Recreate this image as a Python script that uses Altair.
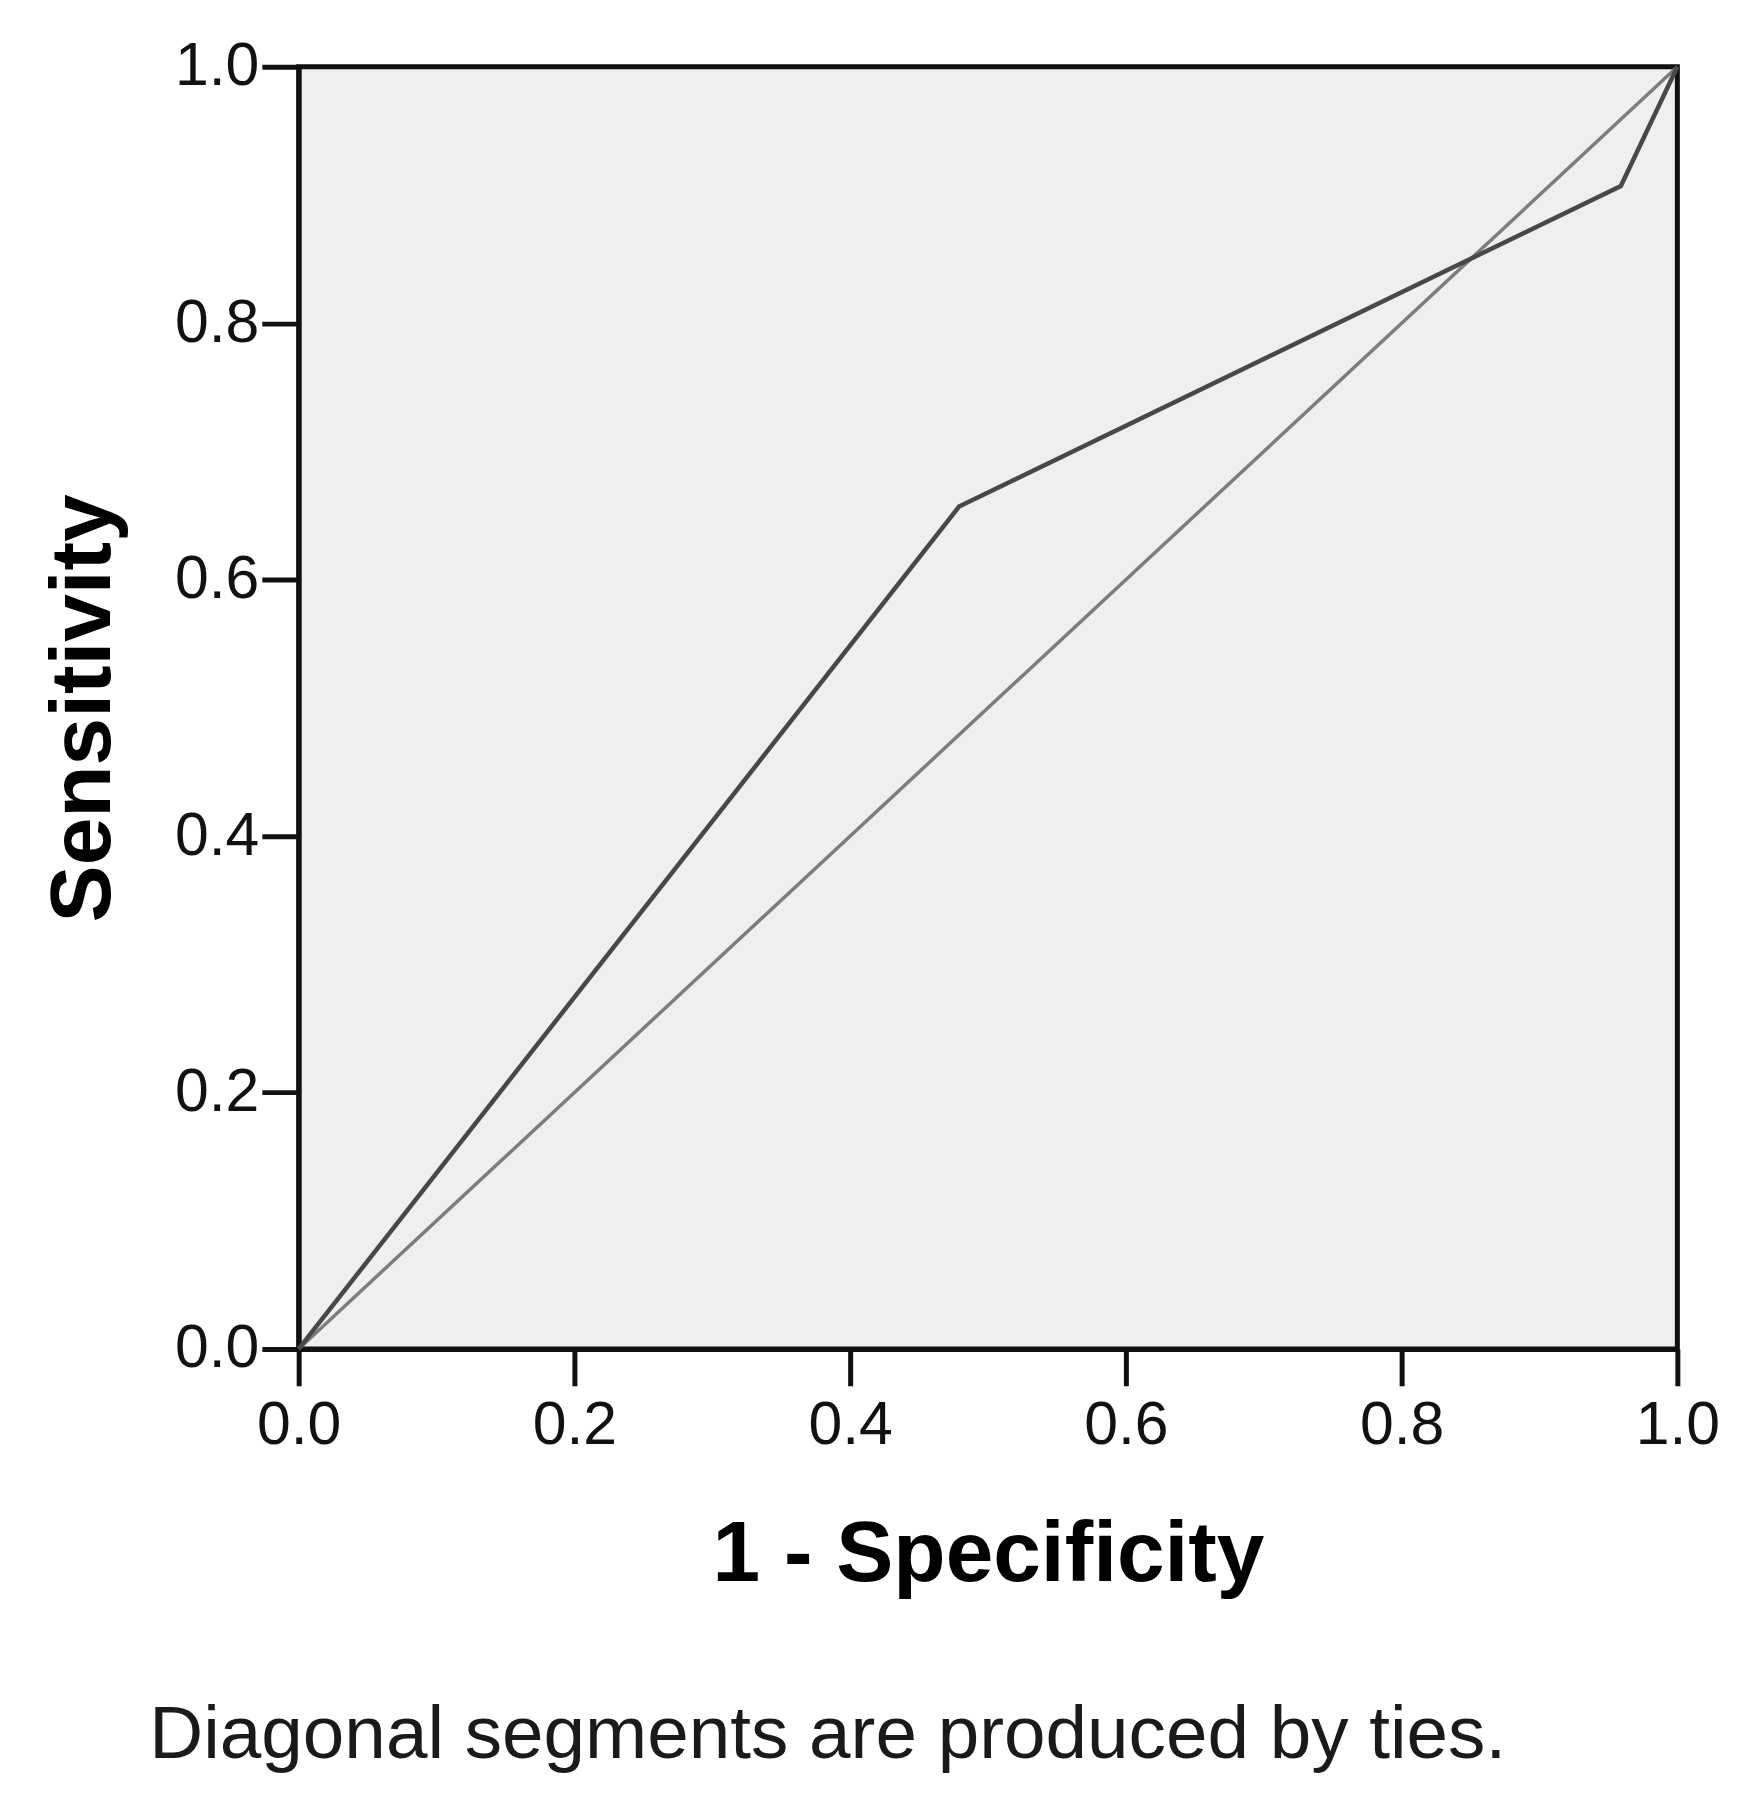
import altair as alt
import pandas as pd

# ROC curve points
fpr = [0.0, 0.479, 0.959, 1.0]
tpr = [0.0, 0.657, 0.907, 1.0]

# reference diagonal
diag_x = [0.0, 1.0]
diag_y = [0.0, 1.0]

tick_values = [0.0, 0.2, 0.4, 0.6, 0.8, 1.0]

roc_df = pd.DataFrame({"fpr": fpr, "tpr": tpr, "order": list(range(len(fpr)))})
diag_df = pd.DataFrame({"fpr": diag_x, "tpr": diag_y, "order": [0, 1]})

FONT = "Liberation Sans"

x_scale = alt.Scale(domain=[0, 1], nice=False, zero=False)
y_scale = alt.Scale(domain=[0, 1], nice=False, zero=False)

x_axis = alt.Axis(
    title="1 - Specificity",
    values=tick_values,
    format=".1f",
    grid=False,
    tickSize=37,
    tickWidth=5,
    tickColor="#111111",
    domainColor="#111111",
    domainWidth=5,
    labelFont=FONT,
    labelFontSize=61,
    labelColor="#111111",
    labelPadding=10,
    labelFlush=False,
    titleFont=FONT,
    titleFontSize=86,
    titleFontWeight="bold",
    titleColor="#000000",
    titlePadding=58,
)

y_axis = alt.Axis(
    title="Sensitivity",
    values=tick_values,
    format=".1f",
    grid=False,
    tickSize=37,
    tickWidth=5,
    tickColor="#111111",
    domainColor="#111111",
    domainWidth=5,
    labelFont=FONT,
    labelFontSize=61,
    labelColor="#111111",
    labelPadding=3,
    labelFlush=False,
    titleFont=FONT,
    titleFontSize=86,
    titleFontWeight="bold",
    titleColor="#000000",
    titlePadding=47,
)

diag = alt.Chart(diag_df).mark_line(color="#7d7d7d", strokeWidth=3.5).encode(
    x=alt.X("fpr:Q", scale=x_scale, axis=x_axis),
    y=alt.Y("tpr:Q", scale=y_scale, axis=y_axis),
    order="order:Q",
)

roc = alt.Chart(roc_df).mark_line(color="#484848", strokeWidth=4.5).encode(
    x=alt.X("fpr:Q", scale=x_scale),
    y=alt.Y("tpr:Q", scale=y_scale),
    order="order:Q",
)

chart = (
    alt.layer(diag, roc)
    .properties(
        width=1385,
        height=1288,
        background="white",
        autosize=alt.AutoSizeParams(type="none"),
        padding={"left": 292, "top": 55, "right": 79, "bottom": 440},
        title=alt.TitleParams(
            text="Diagonal segments are produced by ties.",
            orient="bottom",
            anchor="start",
            frame="group",
            dx=-150,
            offset=102,
            font=FONT,
            fontSize=75,
            fontWeight="normal",
            color="#1a1a1a",
        ),
    )
    .configure_view(fill="#efefef", stroke="#111111", strokeWidth=5)
)

chart.save("out.html", embed_options={"renderer": "svg", "actions": False})
